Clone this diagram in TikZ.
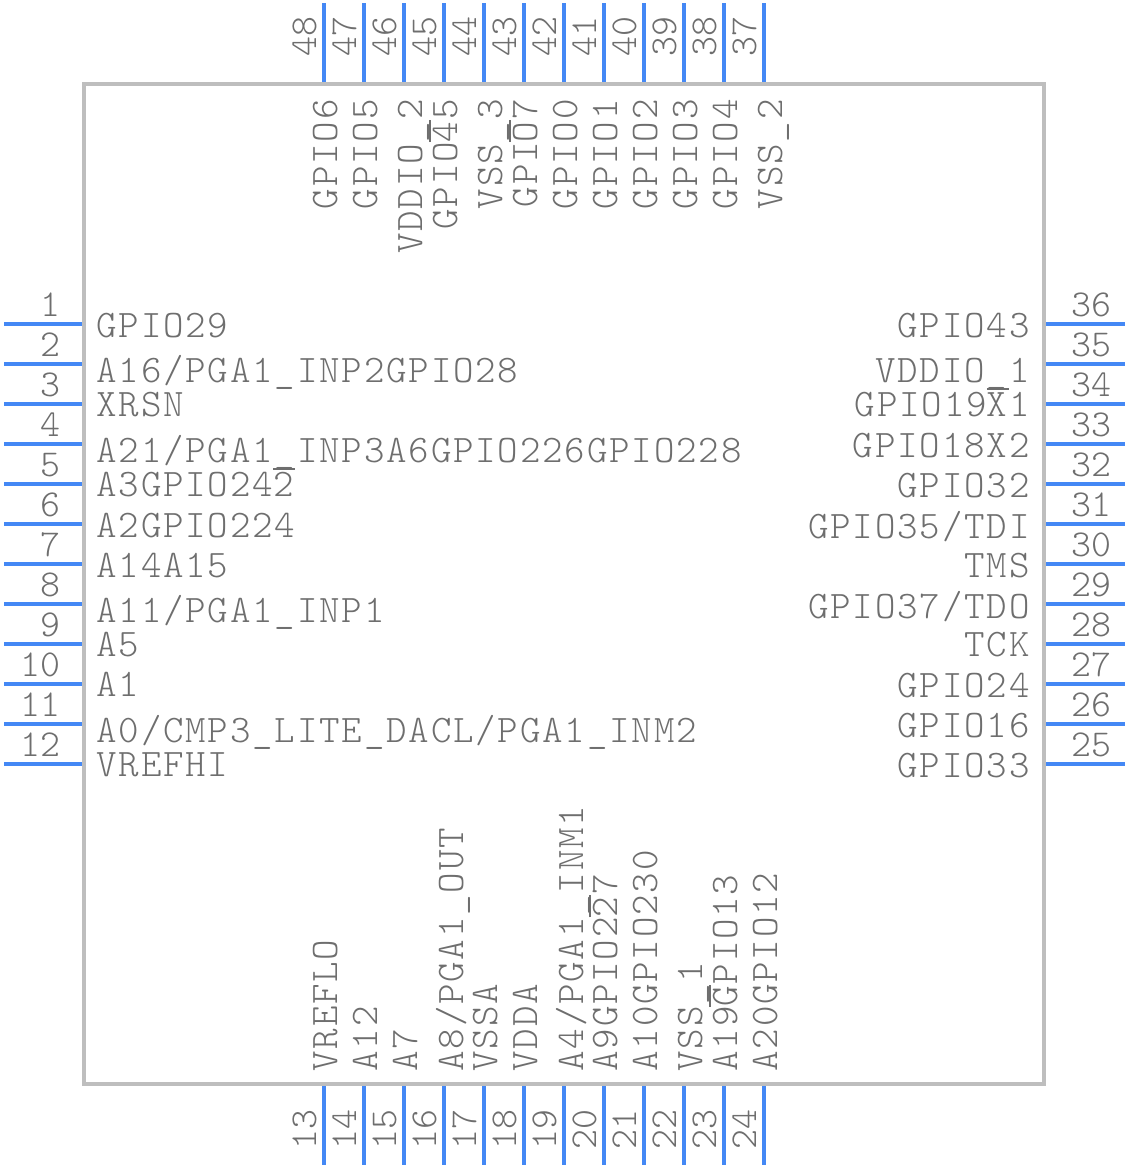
\documentclass[tikz,border=0pt]{standalone}
\usepackage{fontspec}
\setmonofont{Latin Modern Mono Light}
\newfontfamily\sigfont[LetterSpace=4.7]{Latin Modern Mono Light}
\newfontfamily\numfont{Latin Modern Mono Light}
\newcommand{\obar}[1]{\rlap{\rule[13pt]{11pt}{0.8pt}}#1}
\definecolor{pinblue}{HTML}{4488F5}
\definecolor{bodygray}{HTML}{BEBEBE}
\definecolor{textgray}{HTML}{6E6E6E}

\begin{document}
\begin{tikzpicture}[x=0.5pt, y=-0.5pt,
    pinline/.style={draw=pinblue, line width=2pt},
    pinnum/.style={inner sep=0, text=textgray, font=\numfont\fontsize{19}{19}\selectfont},
    signame/.style={inner sep=0, text=textgray, font=\sigfont\fontsize{19.5}{20}\selectfont}]

    \useasboundingbox (0,0) rectangle (1128,1168);

    % Package body
    \draw[draw=bodygray, line width=2pt] (84,84) rectangle (1044,1084);

    % Left pins
    \foreach \n in {1,...,12} {
        \pgfmathsetmacro{\y}{324+40*(\n-1)}
        \draw[pinline] (4,\y) -- (82,\y);
        \node[pinnum, anchor=base east] (numL\n) at (61,\y-8) {\n};
    }

    % Right pins
    \foreach \n in {25,...,36} {
        \pgfmathsetmacro{\y}{764-40*(\n-25)}
        \draw[pinline] (1046,\y) -- (1125,\y);
        \node[pinnum, anchor=base west] (numR\n) at (1071,\y-8) {\n};
    }

    % Bottom pins
    \foreach \n in {13,...,24} {
        \pgfmathsetmacro{\x}{324+40*(\n-13)}
        \draw[pinline] (\x,1086) -- (\x,1165);
        \node[pinnum, rotate=90, anchor=base west] (numB\n) at (\x-8,1150) {\n};
    }

    % Top pins
    \foreach \n in {37,...,48} {
        \pgfmathsetmacro{\x}{764-40*(\n-37)}
        \draw[pinline] (\x,82) -- (\x,3);
        \node[pinnum, rotate=90, anchor=base west] (numT\n) at (\x-8,57) {\n};
    }

    % Left names
    \foreach \n/\y/\t in {1/337/{GPIO29}, 2/382/{A16/PGA1\_INP2GPIO28}, 3/416/{XRSN},
        4/462/{A21/PGA1\_INP3A6GPIO226GPIO228}, 5/496/{A3GPIO24\obar{2}}, 6/537/{A2GPIO224},
        7/577/{A14A15}, 8/622/{A11/PGA1\_INP1}, 9/656/{A5}, 10/696/{A1},
        11/742/{A0/CMP3\_LITE\_DACL/PGA1\_INM2}, 12/776/{VREFHI}} {
        \node[signame, anchor=base west] (sigL\n) at (96,\y) {\t};
    }

    % Right names
    \foreach \n/\y/\t in {36/337/{GPIO43}, 35/382/{VDDIO\_1}, 34/416/{GPIO19\obar{X}1},
        33/457/{GPIO18X2}, 32/497/{GPIO32}, 31/538/{GPIO35/TDI}, 30/577/{TMS},
        29/618/{GPIO37/TDO}, 28/656/{TCK}, 27/697/{GPIO24}, 26/737/{GPIO16}, 25/777/{GPIO33}} {
        \node[signame, anchor=base east] (sigR\n) at (1030,\y) {\t};
    }

    % Bottom names
    \foreach \n/\x/\t in {13/337/{VREFLO}, 14/377/{A12}, 15/417/{A7}, 16/463/{A8/PGA1\_OUT},
        17/497/{VSSA}, 18/537/{VDDA}, 19/583/{A4/PGA1\_INM1}, 20/617/{A9GPIO2\obar{2}7},
        21/657/{A10GPIO230}, 22/702/{VSS\_1}, 23/737/{A19\obar{G}PIO13}, 24/777/{A20GPIO12}} {
        \node[signame, rotate=90, anchor=base west] (sigB\n) at (\x,1072) {\t};
    }

    % Top names
    \foreach \n/\x/\t in {48/337/{GPIO6}, 47/377/{GPIO5}, 46/422/{VDDIO\_2}, 45/457/{GPIO\obar{4}5},
        44/502/{VSS\_3}, 43/537/{GPI\obar{O}7}, 42/577/{GPIO0}, 41/617/{GPIO1},
        40/657/{GPIO2}, 39/697/{GPIO3}, 38/737/{GPIO4}, 37/782/{VSS\_2}} {
        \node[signame, rotate=90, anchor=base east] (sigT\n) at (\x,99) {\t};
    }

\end{tikzpicture}
\end{document}
